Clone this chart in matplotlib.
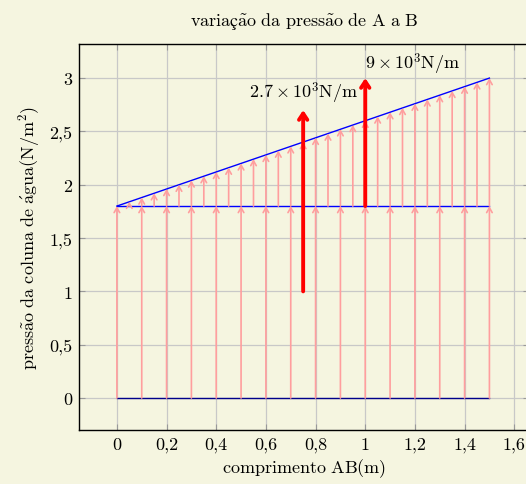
import numpy as np
import matplotlib
matplotlib.use("Agg")
import matplotlib.pyplot as plt

plt.rcParams['font.family'] = ['cmr10', 'DejaVu Serif']
plt.rcParams['mathtext.fontset'] = 'cm'
plt.rcParams['axes.unicode_minus'] = False

# lower arrows (constant pressure from the upper column)
x_low = [0, 0.1, 0.2, 0.3, 0.4, 0.5, 0.6, 0.7, 0.8, 0.9, 1.0, 1.1, 1.2, 1.3, 1.4, 1.5]
p_low = 1.8
# upper arrows (extra pressure growing along AB)
x_up = [0, 0.05, 0.1, 0.15, 0.2, 0.25, 0.3, 0.35, 0.4, 0.45, 0.5, 0.55, 0.6, 0.65, 0.7,
        0.75, 0.8, 0.85, 0.9, 0.95, 1.0, 1.05, 1.1, 1.15, 1.2, 1.25, 1.3, 1.35, 1.4, 1.45, 1.5]
p_up = [1.8, 1.84, 1.88, 1.92, 1.96, 2.0, 2.04, 2.08, 2.12, 2.16, 2.2, 2.24, 2.28, 2.32, 2.36,
        2.4, 2.44, 2.48, 2.52, 2.56, 2.6, 2.64, 2.68, 2.72, 2.76, 2.8, 2.84, 2.88, 2.92, 2.96, 3.0]
# resultant forces
res_x = [0.75, 1.0]
res_y0 = [1.0, 1.8]
res_y1 = [2.7, 3.0]
res_labels = [r'$2.7\times10^3\mathrm{N/m}$', r'$9\times10^3\mathrm{N/m}$']

xticks = [0, 0.2, 0.4, 0.6, 0.8, 1.0, 1.2, 1.4, 1.6]
xticklabels = ['0', '0,2', '0,4', '0,6', '0,8', '1', '1,2', '1,4', '1,6']
yticks = [0, 0.5, 1, 1.5, 2, 2.5, 3]
yticklabels = ['0', '0,5', '1', '1,5', '2', '2,5', '3']

title = r'$\mathrm{varia{ç}\tilde{a}o\ da\ press\tilde{a}o\ de\ A\ a\ B}$'
xlabel = r'$\mathrm{comprimento\ AB(m)}$'
ylabel = r'$\mathrm{press\tilde{a}o\ da\ coluna\ de\ \acute{a}gua(N/m^2)}$'

bg = '#f5f5e0'
pink = '#ff9e9e'

fig = plt.figure(figsize=(5.26, 4.85), dpi=100, facecolor=bg)
ax = fig.add_axes([0.150, 0.1113, 0.856, 0.796], facecolor=bg)

for x in x_low:
    ax.annotate('', xy=(x, p_low), xytext=(x, 0),
                arrowprops=dict(arrowstyle='->,head_length=0.35,head_width=0.2',
                                color=pink, lw=1.2, shrinkA=0, shrinkB=0))
for x, p in zip(x_up, p_up):
    ax.annotate('', xy=(x, p), xytext=(x, p_low),
                arrowprops=dict(arrowstyle='->,head_length=0.35,head_width=0.2',
                                color=pink, lw=1.2, shrinkA=0, shrinkB=0))

ax.plot([x_up[0], x_up[-1]], [p_up[0], p_up[-1]], color='blue', lw=1)
ax.plot([x_low[0], x_low[-1]], [p_low, p_low], color='blue', lw=1)
ax.plot([x_low[0], x_low[-1]], [0, 0], color='#00008b', lw=1)

for x, y0, y1 in zip(res_x, res_y0, res_y1):
    ax.annotate('', xy=(x, y1), xytext=(x, y0),
                arrowprops=dict(arrowstyle='->,head_length=0.45,head_width=0.3',
                                color='red', lw=2.8, shrinkA=0, shrinkB=0))
ax.text(res_x[0], res_y1[0] + 0.05, res_labels[0], ha='center', va='bottom', fontsize=13)
ax.text(res_x[1], res_y1[1] + 0.02, res_labels[1], ha='left', va='bottom', fontsize=13)

ax.set_xlim(-0.153, 1.66)
ax.set_ylim(-0.3, 3.32)
ax.set_xticks(xticks)
ax.set_xticklabels(xticklabels)
ax.set_yticks(yticks)
ax.set_yticklabels(yticklabels)
ax.tick_params(direction='in', length=4, color='#999999', labelsize=13,
               top=True, right=True, pad=5)
ax.grid(True, color='#c8c8c8', lw=0.9)
ax.set_axisbelow(True)
for s in ax.spines.values():
    s.set_linewidth(1.0)

ax.set_title(title, fontsize=13, pad=14)
ax.set_xlabel(xlabel, fontsize=13, labelpad=3)
ax.set_ylabel(ylabel, fontsize=13, labelpad=5)

fig.savefig('out.png', dpi=100, facecolor=bg)
